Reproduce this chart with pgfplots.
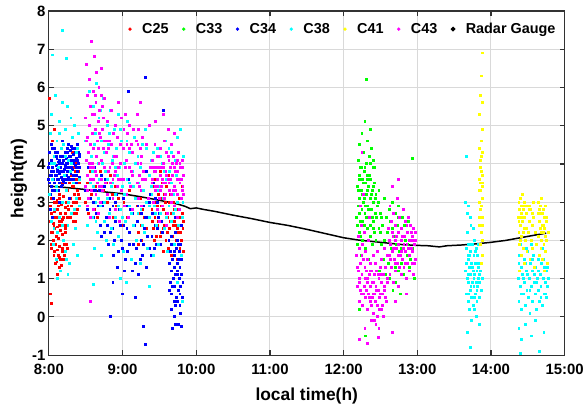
\documentclass[border=0pt]{standalone}
\usepackage{pgfplots}
\pgfplotsset{compat=1.18}
\usepackage{fontspec}
\setmainfont{Liberation Sans}
\definecolor{cR}{RGB}{255,0,0}
\definecolor{cG}{RGB}{0,255,0}
\definecolor{cB}{RGB}{0,0,255}
\definecolor{cC}{RGB}{0,255,255}
\definecolor{cY}{RGB}{255,255,0}
\definecolor{cM}{RGB}{255,0,255}
\definecolor{axgray}{RGB}{50,50,50}
\pgfplotsset{dots/.style={only marks, mark=square*, mark size=0.95pt, color=#1, mark options={line width=0pt}}}
\begin{document}
\begin{tikzpicture}
\begin{axis}[
  scale only axis, width=517bp, height=345bp,
  xmin=8, xmax=15, ymin=-1, ymax=8,
  xtick={8,9,10,11,12,13,14,15},
  xticklabels={8:00,9:00,10:00,11:00,12:00,13:00,14:00,15:00},
  ytick={-1,0,1,2,3,4,5,6,7,8},
  /pgf/number format/assume math mode=true,
  tick label style={font=\bfseries\fontsize{15}{17}\selectfont},
  xticklabel style={inner ysep=0pt, yshift=-9bp},
  yticklabel style={inner ysep=0pt},
  label style={font=\bfseries\fontsize{17.5}{20}\selectfont},
  xlabel={local time(h)}, ylabel={height(m)},
  xlabel style={at={(axis description cs:0.5,0)}, anchor=center, yshift=-41bp},
  ylabel style={at={(axis description cs:-0.058,0.513)}, anchor=center},
  grid=major, grid style={color=black!15, line width=0.9pt},
  axis line style={color=axgray, line width=1.2pt},
  tick style={color=axgray, line width=1.2pt},
  tick align=inside, major tick length=5bp,
  xtick pos=both, ytick pos=both,
  clip=true,
  legend columns=-1,
  legend style={at={(rel axis cs:1,1)}, anchor=north east, xshift=-4bp, yshift=-8bp,
    draw=none, fill=none, font=\bfseries\fontsize{14.5}{16}\selectfont,
    /tikz/every odd column/.append style={column sep=8.5bp},
    /tikz/every even column/.append style={column sep=11.5bp}},
  legend image code/.code={\fill[#1] (0bp,0bp) circle (1.5pt);},
]
% C25
\addplot[dots=cR] coordinates {
(8.02,2.9)(8.03,3.4)(8.03,2.2)(8.04,1.8)(8.04,3.1)(8.05,2.6)(8.05,3.8)(8.06,2.0)(8.06,2.45)(8.07,3.0)(8.07,1.6)(8.08,2.3)(8.08,2.75)(8.09,3.3)(8.09,1.9)(8.10,2.1)(8.10,2.6)(8.11,1.45)(8.11,3.05)(8.12,2.35)(8.12,1.75)(8.13,2.9)(8.13,2.05)(8.14,1.55)(8.14,2.5)(8.15,3.2)(8.15,1.85)(8.16,2.25)(8.16,2.7)(8.17,1.35)(8.17,2.95)(8.18,2.15)(8.18,3.5)(8.19,1.7)(8.19,2.55)(8.20,2.0)(8.20,3.15)(8.21,2.4)(8.21,1.6)(8.22,2.85)(8.22,3.6)(8.23,2.2)(8.24,1.9)(8.24,3.0)(8.25,2.6)
(8.02,2.5)(8.03,1.9)(8.04,2.7)(8.05,2.2)(8.06,3.3)(8.07,2.4)(8.08,1.7)(8.09,2.6)(8.10,3.0)(8.11,2.2)(8.12,2.8)(8.13,1.6)(8.14,3.1)(8.15,2.4)(8.16,1.5)(8.17,2.5)(8.18,1.8)(8.19,3.0)(8.20,2.6)(8.21,1.9)(8.22,2.3)(8.23,2.7)(8.24,2.4)(8.25,1.8)(8.09,1.4)(8.15,1.3)(8.20,1.5)
(8.26,3.3)(8.27,2.8)(8.27,3.9)(8.28,3.5)(8.29,2.6)(8.29,4.1)(8.30,3.1)(8.31,3.7)(8.31,2.9)(8.32,4.3)(8.33,3.4)(8.33,2.7)(8.34,3.9)(8.35,3.2)(8.35,4.4)(8.36,2.5)(8.37,3.6)(8.37,3.0)(8.38,4.0)(8.39,3.3)(8.39,2.8)(8.40,3.8)(8.41,3.1)(8.41,4.2)(8.42,3.5)
(8.26,2.9)(8.28,3.9)(8.30,2.7)(8.32,3.4)(8.34,3.0)(8.36,3.8)(8.38,2.7)(8.40,3.2)(8.42,2.9)(8.30,3.6)(8.34,2.5)(8.38,3.6)
(8.01,5.7)(8.02,0.6)(8.03,0.35)(8.05,4.6)(8.12,1.1)(8.08,4.9)
(8.50,3.0)(8.52,3.5)(8.54,2.7)(8.56,3.8)
(8.58,3.2)(8.60,3.6)(8.62,2.8)(8.64,3.4)(8.66,2.6)(8.68,3.1)(8.70,3.8)(8.72,2.9)(8.74,3.3)(8.76,2.5)(8.78,3.5)(8.80,3.0)(8.82,2.7)(8.84,3.7)(8.86,3.2)(8.88,2.6)(8.90,3.4)(8.92,2.9)(8.95,3.1)(8.98,2.4)(9.02,3.0)(9.06,2.6)(9.10,3.3)
(9.20,2.9)(9.21,2.5)(9.22,2.2)(9.23,2.7)(9.24,3.1)(9.25,2.4)(9.26,2.0)(9.27,2.8)(9.22,1.9)(9.25,3.3)(9.30,2.6)(9.32,2.3)
(9.40,2.8)(9.41,3.4)(9.42,2.3)(9.43,3.0)(9.44,2.6)(9.45,3.6)(9.46,2.1)(9.47,2.9)(9.48,3.3)(9.49,2.5)(9.50,1.9)(9.51,2.7)(9.52,3.1)(9.53,2.2)(9.54,3.5)(9.55,2.8)(9.56,1.7)(9.57,2.4)(9.58,3.0)(9.59,2.0)(9.60,3.4)(9.61,2.6)(9.62,1.8)(9.63,2.9)(9.64,2.3)(9.65,3.2)(9.66,1.6)(9.67,2.7)(9.68,2.1)(9.69,3.0)(9.70,2.5)(9.71,1.9)(9.72,3.3)(9.73,2.4)(9.74,1.5)(9.75,2.8)(9.76,2.2)(9.77,3.1)(9.78,1.8)(9.79,2.6)(9.80,2.0)(9.81,3.4)(9.82,2.3)(9.83,1.7)(9.44,3.9)(9.52,3.8)(9.62,3.7)(9.74,3.6)
(9.41,2.5)(9.43,2.0)(9.45,2.9)(9.47,2.4)(9.49,3.2)(9.51,2.1)(9.53,2.9)(9.55,2.3)(9.57,3.2)(9.59,2.7)(9.61,2.2)(9.63,3.0)(9.65,2.5)(9.67,1.9)(9.69,2.4)(9.71,2.8)(9.73,2.0)(9.75,2.3)(9.77,2.6)(9.79,2.2)(9.81,2.7)(9.83,2.5)
};
\addlegendentry{C25}
% C33
\addplot[dots=cG] coordinates {
(12.18,2.6)(12.19,3.4)(12.19,1.9)(12.20,4.1)(12.20,2.9)(12.21,3.7)(12.21,2.2)(12.22,4.5)(12.22,3.1)(12.23,2.5)(12.23,3.9)(12.24,1.6)(12.24,3.3)(12.25,4.8)(12.25,2.8)(12.26,3.6)(12.26,2.0)(12.27,4.3)(12.27,3.0)(12.28,2.4)(12.28,3.8)(12.29,5.1)(12.29,2.7)(12.30,3.5)(12.30,1.8)(12.31,4.0)(12.31,3.2)(12.32,2.3)(12.32,4.6)(12.33,2.9)(12.33,3.7)(12.34,1.5)(12.34,3.4)(12.35,4.2)(12.35,2.6)(12.36,3.1)(12.36,4.9)(12.37,2.1)(12.37,3.6)(12.38,2.8)(12.38,4.4)(12.39,3.3)(12.39,1.9)(12.40,3.9)(12.40,2.5)(12.41,3.0)(12.41,4.1)(12.42,2.2)(12.42,3.5)(12.43,2.7)(12.43,1.4)(12.44,3.2)(12.44,2.0)(12.45,2.6)(12.46,1.7)(12.47,3.0)(12.48,2.3)(12.49,1.2)(12.50,2.7)(12.51,1.9)(12.52,0.9)(12.53,2.4)(12.54,1.5)(12.55,3.1)(12.56,2.0)(12.57,1.1)(12.58,2.6)
(12.19,2.4)(12.20,3.3)(12.21,2.7)(12.22,3.6)(12.23,2.1)(12.24,3.9)(12.25,3.2)(12.26,2.5)(12.27,3.5)(12.28,3.1)(12.29,3.9)(12.30,2.9)(12.31,2.6)(12.32,3.6)(12.33,3.3)(12.34,2.8)(12.35,3.7)(12.36,2.4)(12.37,4.0)(12.38,3.2)(12.39,2.6)(12.40,3.4)(12.41,2.3)(12.42,3.9)(12.43,3.1)(12.44,2.6)(12.46,2.9)(12.48,3.3)(12.50,2.2)(12.52,2.6)
(12.60,2.2)(12.61,1.4)(12.62,2.8)(12.63,1.0)(12.64,2.5)(12.65,1.8)(12.66,3.0)(12.67,0.7)(12.68,2.1)(12.69,1.5)(12.70,2.7)(12.71,0.9)(12.72,1.9)(12.73,2.4)(12.74,1.2)(12.75,2.9)(12.76,1.7)(12.77,0.6)(12.78,2.3)(12.79,1.4)(12.80,2.6)(12.82,1.1)(12.84,2.0)(12.86,1.6)(12.88,2.5)(12.90,1.3)(12.92,2.2)(12.94,1.8)(12.96,1.0)(12.93,4.15)
(12.62,2.0)(12.66,2.3)(12.70,1.3)(12.74,2.6)(12.78,1.8)(12.83,2.4)(12.87,1.9)(12.91,1.5)
(12.22,0.2)(12.30,-0.5)(12.31,6.2)
};
\addlegendentry{C33}
% C34
\addplot[dots=cB] coordinates {
(8.00,3.9)(8.01,4.3)(8.01,3.5)(8.02,4.0)(8.02,3.2)(8.03,4.5)(8.03,3.7)(8.04,4.1)(8.04,3.4)(8.05,3.9)(8.05,4.4)(8.06,3.6)(8.06,3.1)(8.07,4.2)(8.07,3.8)(8.08,3.5)(8.08,4.0)(8.09,3.3)(8.09,4.3)(8.10,3.7)(8.10,3.95)(8.11,3.4)(8.11,4.15)(8.12,3.6)(8.12,3.85)(8.13,4.05)(8.13,3.3)(8.14,3.75)(8.15,4.0)(8.15,3.5)(8.16,3.9)(8.17,3.65)(8.17,4.2)(8.18,3.45)(8.19,3.8)(8.20,4.1)(8.20,3.55)(8.21,3.85)(8.22,4.3)(8.22,3.6)(8.23,3.95)(8.24,4.15)(8.24,3.7)(8.25,4.4)(8.25,3.8)(8.26,4.0)(8.27,4.5)(8.27,3.65)(8.28,4.2)(8.29,3.9)(8.29,4.35)(8.30,3.75)(8.31,4.1)(8.31,4.45)(8.32,3.85)(8.33,4.25)(8.33,3.6)(8.34,4.05)(8.35,4.4)(8.35,3.7)(8.36,3.95)(8.37,4.3)(8.37,3.5)(8.38,4.15)(8.39,3.8)(8.39,4.5)(8.40,4.0)(8.41,3.65)(8.41,4.25)(8.42,3.9)(8.02,2.8)(8.05,2.6)(8.14,3.0)(8.28,3.1)(8.19,4.6)
(8.00,3.6)(8.01,4.0)(8.02,3.7)(8.03,4.1)(8.04,3.8)(8.05,3.3)(8.06,4.0)(8.07,3.5)(8.08,4.4)(8.09,3.7)(8.10,4.2)(8.11,3.8)(8.12,4.3)(8.13,3.6)(8.14,4.1)(8.15,3.8)(8.16,4.2)(8.17,3.4)(8.18,4.0)(8.19,3.6)(8.20,3.8)(8.21,4.2)(8.22,3.9)(8.23,3.5)(8.24,4.0)(8.25,3.6)(8.26,4.3)(8.27,3.9)(8.28,3.8)(8.29,3.6)(8.30,4.2)(8.31,3.9)(8.32,4.4)(8.33,4.0)(8.34,3.7)(8.35,4.1)(8.36,4.3)(8.37,3.9)(8.38,3.7)(8.39,4.1)(8.40,4.3)(8.41,3.9)(8.42,4.2)
(8.50,3.3)(8.52,2.8)(8.54,3.9)(8.56,3.1)
(8.58,3.6)(8.60,3.0)(8.62,3.9)(8.63,3.3)(8.65,2.7)(8.66,3.5)(8.68,3.1)(8.70,2.4)(8.71,3.7)(8.73,2.9)(8.75,3.4)(8.76,2.2)(8.78,2.6)(8.80,3.2)(8.81,1.9)(8.83,2.8)(8.85,3.5)(8.86,2.3)(8.88,1.6)(8.90,3.0)(8.91,2.5)(8.93,1.3)(8.95,2.1)(8.96,2.8)(8.98,3.3)(9.00,1.8)(9.02,2.4)(9.03,1.2)(9.05,2.9)(9.07,1.7)(9.08,3.6)(9.10,2.2)(9.12,1.5)(9.13,2.7)(9.15,1.9)(9.17,3.1)(9.18,1.4)(9.20,2.5)(9.22,1.1)(9.23,3.4)(9.25,2.0)(9.27,1.6)(9.28,2.9)(9.30,2.3)(9.32,1.3)(9.33,3.8)(9.35,2.6)(9.37,1.8)(9.38,3.2)(9.40,2.1)(9.42,3.5)(9.44,2.4)(9.46,1.9)(9.48,3.0)(9.50,2.7)(9.52,3.3)(9.54,2.2)
(8.59,3.3)(8.61,2.6)(8.64,3.7)(8.67,2.9)(8.69,3.3)(8.72,2.1)(8.74,3.0)(8.77,3.6)(8.79,2.4)(8.82,3.1)(8.84,2.2)(8.87,2.9)(8.89,2.0)(8.92,3.2)(8.94,1.7)(8.97,2.4)(8.99,2.0)(9.01,3.1)(9.04,1.5)(9.06,2.3)(9.09,1.9)(9.11,2.8)(9.14,1.2)(9.16,2.4)(9.19,1.8)(9.21,2.9)(9.24,1.5)(9.26,2.7)(9.29,1.9)(9.31,2.6)(9.34,2.1)(9.36,3.0)(9.39,1.6)(9.41,2.7)(9.43,1.8)(9.45,3.1)(9.47,2.3)(9.49,2.6)(9.51,1.9)(9.53,2.5)
(9.63,2.0)(9.64,1.4)(9.65,0.9)(9.65,1.7)(9.66,1.2)(9.67,2.1)(9.67,0.6)(9.68,1.5)(9.69,1.0)(9.69,1.9)(9.70,0.4)(9.70,1.3)(9.71,0.8)(9.71,1.6)(9.72,2.2)(9.72,1.1)(9.73,0.5)(9.73,1.8)(9.74,1.4)(9.74,0.9)(9.75,1.2)(9.75,2.0)(9.76,0.7)(9.76,1.5)(9.77,1.0)(9.77,1.7)(9.78,0.3)(9.78,1.3)(9.79,0.8)(9.79,1.9)(9.80,1.1)(9.81,0.5)(9.68,-0.3)(9.76,-0.2)(9.72,2.6)(9.80,2.4)
(9.64,0.7)(9.66,1.9)(9.68,0.8)(9.70,1.7)(9.72,0.3)(9.74,1.1)(9.76,1.9)(9.78,0.6)(9.80,1.5)(9.82,0.9)(9.66,0.2)(9.71,0.0)(9.75,0.4)(9.79,0.1)
(8.84,0.0)(9.29,-0.25)(9.31,-0.72)(9.72,-0.2)(9.80,-0.25)(9.31,6.25)(9.56,5.4)(9.08,5.9)(8.87,0.9)(9.00,0.6)(9.17,0.5)
};
\addlegendentry{C34}
% C38
\addplot[dots=cC] coordinates {
(8.01,3.2)(8.02,4.8)(8.03,2.5)(8.04,5.3)(8.05,6.85)(8.05,3.6)(8.06,1.9)(8.07,4.2)(8.08,2.8)(8.09,5.8)(8.10,3.4)(8.10,1.5)(8.11,4.6)(8.12,2.2)(8.13,3.9)(8.14,5.1)(8.15,2.6)(8.16,1.2)(8.17,4.4)(8.18,7.5)(8.18,3.0)(8.19,5.6)(8.20,2.0)(8.21,3.7)(8.22,4.9)(8.23,1.7)(8.24,6.75)(8.24,3.3)(8.25,5.5)(8.26,2.4)(8.27,4.1)(8.28,1.4)(8.29,3.8)(8.30,5.2)(8.31,2.7)(8.32,4.7)(8.33,1.9)(8.34,3.5)(8.35,5.0)(8.36,2.3)(8.37,4.3)(8.38,3.1)(8.39,1.6)(8.40,4.8)(8.41,2.9)(8.42,3.6)(8.12,1.0)(8.26,1.1)(8.08,4.0)(8.20,4.5)(8.24,1.5)
(8.03,4.0)(8.07,2.3)(8.11,3.3)(8.15,4.8)(8.19,2.4)(8.23,4.2)(8.27,3.0)(8.31,4.0)(8.35,2.8)(8.39,4.4)
(8.50,4.6)(8.53,2.4)(8.55,5.9)(8.57,3.5)(8.60,0.85)
(8.58,4.2)(8.59,2.6)(8.60,5.5)(8.61,3.4)(8.62,1.8)(8.63,4.8)(8.64,3.0)(8.65,6.1)(8.66,2.2)(8.67,4.0)(8.68,5.2)(8.69,3.6)(8.70,2.9)(8.71,4.6)(8.72,1.6)(8.73,3.3)(8.74,5.7)(8.75,2.5)(8.76,4.3)(8.77,3.8)(8.78,2.0)(8.79,5.0)(8.80,3.1)(8.81,4.5)(8.82,2.7)(8.83,3.9)(8.84,5.4)(8.85,2.3)(8.86,4.1)(8.87,3.5)(8.88,1.9)(8.89,4.9)(8.90,3.2)(8.91,2.6)(8.92,4.4)(8.93,3.7)(8.94,5.3)(8.95,2.1)(8.96,3.9)(8.97,2.8)(8.98,4.6)(9.00,3.4)(9.01,1.7)(9.03,4.0)(9.04,2.5)(9.06,3.6)(9.07,5.1)(9.09,2.9)(9.10,4.3)(9.12,1.5)(9.13,3.8)(9.15,2.4)(9.16,4.7)(9.18,3.1)(9.19,2.0)(9.21,4.2)(9.22,3.5)(9.24,1.4)(9.25,2.8)(9.27,4.5)(9.28,3.3)(9.30,2.2)(9.31,4.9)(9.33,3.0)(9.34,1.8)(9.36,3.7)(9.37,2.6)(9.39,4.1)(9.40,3.2)(9.42,1.6)(9.43,2.9)(9.45,3.9)(9.46,2.4)(9.48,4.4)(9.49,1.9)(9.51,3.4)(9.52,2.7)(9.54,4.0)(9.55,3.1)(9.57,2.3)(9.58,4.6)(9.60,3.6)(9.61,1.7)(9.63,2.9)(9.64,3.8)(9.66,2.5)(9.67,4.3)(9.69,3.2)(9.70,1.9)(9.72,2.8)(9.73,3.7)(9.75,4.7)(9.76,2.4)(9.78,3.5)(9.79,4.9)(9.80,1.6)(9.82,3.0)(9.83,4.2)(9.74,0.9)(9.81,0.4)(9.05,0.9)(9.36,0.8)(8.97,1.0)
(8.59,3.8)(8.62,4.5)(8.64,2.5)(8.67,3.1)(8.70,5.4)(8.73,4.0)(8.76,3.0)(8.79,3.6)(8.82,4.8)(8.85,3.4)(8.88,4.2)(8.91,3.9)(8.94,2.9)(8.97,4.9)(9.00,2.6)(9.03,3.2)(9.06,4.6)(9.09,3.5)(9.12,2.7)(9.15,3.4)(9.18,4.0)(9.21,2.7)(9.24,3.9)(9.27,2.4)(9.30,3.6)(9.33,4.4)(9.36,2.9)(9.39,3.4)(9.42,4.3)(9.45,2.7)(9.48,3.3)(9.51,4.2)(9.54,2.9)(9.57,3.8)(9.60,2.6)(9.63,4.4)(9.66,3.5)(9.69,2.7)(9.72,4.1)(9.75,3.0)(9.78,4.0)(9.81,2.6)
(13.66,1.2)(13.67,0.6)(13.67,1.8)(13.68,1.0)(13.68,2.2)(13.69,0.4)(13.69,1.5)(13.70,0.9)(13.70,1.9)(13.71,0.2)(13.71,1.3)(13.72,0.7)(13.72,1.7)(13.73,1.1)(13.73,2.4)(13.74,0.5)(13.74,1.4)(13.75,0.9)(13.75,1.9)(13.76,0.3)(13.76,1.2)(13.77,0.8)(13.77,1.6)(13.78,1.1)(13.78,2.0)(13.79,0.6)(13.79,1.4)(13.80,0.9)(13.80,1.8)(13.81,0.4)(13.81,1.2)(13.82,0.8)(13.82,1.6)(13.83,1.0)(13.84,0.5)(13.84,1.4)(13.85,0.9)(13.86,1.2)(13.87,0.7)(13.88,1.0)(13.68,2.7)(13.70,2.9)(13.72,2.6)(13.67,4.2)(13.66,3.0)(13.74,-0.1)(13.80,0.0)(13.68,-0.4)(13.72,-0.8)(13.85,-0.2)(13.76,2.3)(13.83,1.9)(13.70,1.6)(13.78,0.2)
(13.67,1.4)(13.69,1.1)(13.71,1.6)(13.73,0.8)(13.75,1.3)(13.77,1.0)(13.79,1.7)(13.81,0.7)(13.83,1.3)(13.85,1.1)(13.70,0.6)(13.74,1.9)(13.78,0.5)(13.82,1.4)
(14.37,1.0)(14.38,0.4)(14.39,1.6)(14.40,0.8)(14.41,1.3)(14.42,0.2)(14.43,1.1)(14.44,0.6)(14.45,1.5)(14.46,0.9)(14.47,0.3)(14.48,1.2)(14.49,0.7)(14.50,1.7)(14.51,0.5)(14.52,1.0)(14.53,0.1)(14.54,1.4)(14.55,0.8)(14.56,1.2)(14.57,0.4)(14.58,1.6)(14.59,0.9)(14.60,0.6)(14.61,1.3)(14.62,0.2)(14.63,1.0)(14.64,0.7)(14.65,1.5)(14.66,0.4)(14.67,1.1)(14.68,0.8)(14.69,1.4)(14.70,0.3)(14.71,1.0)(14.72,0.6)(14.73,1.3)(14.74,0.9)(14.75,0.5)(14.76,1.2)(14.77,0.8)(14.78,1.0)(14.40,1.9)(14.48,1.8)(14.55,1.9)(14.70,1.8)(14.38,-0.3)(14.42,-0.6)(14.47,-0.2)(14.55,-0.5)(14.40,-0.95)(14.66,-0.9)(14.72,-0.4)(14.60,-0.1)
(14.38,1.4)(14.41,0.6)(14.44,1.0)(14.47,1.4)(14.50,1.1)(14.53,0.7)(14.56,1.5)(14.59,1.1)(14.62,0.9)(14.65,1.2)(14.68,0.5)(14.71,1.5)(14.74,0.6)(14.77,1.3)
};
\addlegendentry{C38}
% C41
\addplot[dots=cY] coordinates {
(13.84,2.4)(13.85,3.0)(13.85,3.6)(13.86,2.8)(13.86,4.1)(13.86,3.3)(13.87,2.2)(13.87,3.8)(13.87,4.6)(13.88,3.1)(13.88,2.6)(13.88,4.9)(13.89,3.5)(13.89,1.6)(13.89,4.3)(13.86,1.9)(13.85,5.3)(13.88,5.6)(13.86,5.8)(13.87,6.3)(13.88,6.9)(13.85,4.4)(13.87,1.4)(13.86,3.9)(13.88,2.0)(13.89,3.7)(13.84,3.3)(13.87,2.9)
(13.86,3.5)(13.87,4.2)(13.88,3.4)(13.85,2.6)(13.89,2.4)
(14.37,2.6)(14.38,3.0)(14.38,2.2)(14.39,2.8)(14.39,1.9)(14.40,3.1)(14.40,2.4)(14.41,2.7)(14.41,1.6)(14.42,2.9)(14.42,2.1)(14.43,3.2)(14.43,2.5)(14.44,1.8)(14.44,2.8)(14.45,2.3)(14.45,3.0)(14.46,1.4)(14.46,2.6)(14.47,2.0)(14.48,2.7)(14.49,1.7)(14.50,2.9)(14.51,2.2)(14.52,2.5)(14.53,1.5)(14.54,2.8)(14.55,2.0)(14.56,2.4)(14.57,1.8)(14.58,2.6)(14.59,1.3)(14.60,2.2)(14.62,1.9)(14.64,2.7)(14.65,3.0)(14.65,2.1)(14.66,2.5)(14.66,1.6)(14.67,2.9)(14.67,2.3)(14.68,1.8)(14.68,2.7)(14.69,2.0)(14.69,3.1)(14.70,2.4)(14.70,1.5)(14.71,2.8)(14.71,2.2)(14.72,1.9)(14.72,2.6)(14.73,1.2)(14.73,2.3)(14.74,2.9)(14.74,1.7)(14.75,2.5)(14.76,2.0)(14.77,1.4)(14.78,2.2)(14.39,1.2)(14.58,3.0)(14.53,2.9)
(14.38,2.5)(14.40,2.0)(14.42,2.6)(14.44,2.2)(14.46,2.9)(14.48,2.3)(14.52,2.8)(14.56,2.7)(14.66,2.8)(14.68,2.2)(14.70,2.7)(14.72,2.4)(14.74,2.1)(14.76,2.6)
};
\addlegendentry{C41}
% C43
\addplot[dots=cM] coordinates {
(8.50,3.4)(8.50,5.2)(8.51,4.1)(8.51,6.6)(8.52,2.9)(8.52,4.7)(8.53,3.7)(8.53,5.8)(8.54,4.3)(8.54,3.1)(8.55,5.0)(8.55,6.2)(8.56,3.9)(8.56,2.6)(8.57,4.5)(8.57,5.5)(8.58,3.3)(8.58,7.2)(8.59,4.8)(8.59,4.0)(8.60,5.9)(8.60,3.6)(8.61,4.4)(8.61,2.8)(8.62,5.3)(8.62,6.8)(8.63,3.8)(8.63,4.9)(8.64,3.2)(8.64,5.6)(8.65,4.2)(8.65,6.4)(8.66,3.5)(8.66,4.6)(8.67,5.1)(8.67,2.7)(8.68,4.0)(8.68,6.0)(8.69,3.4)(8.69,5.4)(8.70,4.7)(8.70,3.0)(8.71,5.8)(8.71,4.1)(8.72,3.6)(8.72,6.5)(8.73,4.9)(8.73,3.3)(8.74,5.2)(8.74,4.4)(8.75,3.9)(8.75,5.7)
(8.51,4.6)(8.53,3.3)(8.55,4.0)(8.57,3.6)(8.59,5.3)(8.61,3.9)(8.63,5.8)(8.65,3.7)(8.67,4.4)(8.69,4.8)(8.71,3.4)(8.73,5.5)(8.75,4.6)(8.77,3.5)(8.79,4.6)(8.81,4.4)(8.83,3.9)(8.85,4.5)(8.87,3.6)(8.89,4.2)(8.91,3.8)(8.93,4.7)(8.95,3.6)(8.97,4.0)(8.99,3.6)(9.02,4.9)(9.04,3.9)(9.06,4.5)(9.09,4.4)(9.12,3.8)(9.14,4.3)(9.21,4.5)(9.23,3.4)(9.25,4.0)(9.27,3.6)
(8.78,4.3)(8.79,3.2)(8.80,5.1)(8.81,3.8)(8.82,2.6)(8.83,4.6)(8.84,3.5)(8.85,5.4)(8.86,4.0)(8.87,3.1)(8.88,4.8)(8.89,3.7)(8.90,2.8)(8.91,5.0)(8.92,4.2)(8.93,3.4)(8.94,5.6)(8.95,3.9)(8.96,2.5)(8.97,4.5)(8.98,3.3)(8.99,5.2)
(9.01,4.4)(9.02,3.6)(9.03,2.9)(9.04,5.3)(9.05,4.1)(9.06,3.2)(9.07,4.8)(9.08,2.6)(9.09,3.9)(9.10,5.0)(9.11,3.4)(9.12,4.5)(9.13,2.8)(9.14,3.7)(9.15,4.9)
(9.19,4.6)(9.20,3.5)(9.20,5.3)(9.21,4.0)(9.22,3.1)(9.22,4.9)(9.23,3.7)(9.24,4.4)(9.24,5.6)(9.25,3.3)(9.26,4.2)(9.26,2.9)(9.27,4.7)(9.28,3.8)
(9.31,3.6)(9.33,4.5)(9.35,3.1)(9.37,5.0)(9.38,3.9)
(9.40,3.5)(9.41,4.1)(9.42,3.0)(9.43,3.8)(9.44,4.5)(9.45,3.3)(9.46,3.9)(9.47,2.8)(9.48,3.6)(9.49,4.2)(9.50,3.1)(9.51,3.7)(9.52,4.4)(9.53,3.4)(9.54,2.9)(9.55,4.0)(9.56,3.5)(9.57,4.6)(9.58,3.2)(9.59,3.8)(9.60,4.3)(9.61,2.7)(9.62,3.6)(9.63,4.1)(9.64,3.3)(9.65,3.9)(9.66,4.5)(9.67,3.0)(9.68,3.7)(9.69,4.2)(9.70,3.4)(9.71,2.9)(9.72,3.8)(9.73,4.0)(9.74,3.2)(9.75,3.6)(9.76,4.3)(9.77,2.8)(9.78,3.5)(9.79,3.9)(9.80,3.1)(9.81,4.1)(9.82,3.4)(9.83,3.7)(9.45,5.1)(9.55,5.3)(9.62,4.9)(9.70,4.8)(9.50,2.5)(9.60,2.4)(9.74,2.6)(8.57,0.4)
(9.41,3.6)(9.42,3.9)(9.44,3.4)(9.45,3.8)(9.47,4.2)(9.48,3.4)(9.50,3.9)(9.51,3.3)(9.53,3.9)(9.54,3.6)(9.56,3.9)(9.57,3.1)(9.59,3.5)(9.60,3.7)(9.62,4.2)(9.63,3.5)(9.65,3.6)(9.66,3.2)(9.68,4.0)(9.69,3.3)(9.71,3.9)(9.72,3.3)(9.74,3.8)(9.75,4.1)(9.77,3.6)(9.78,4.0)(9.80,3.6)(9.81,3.3)(9.82,3.9)(9.83,3.2)
(12.18,1.6)(12.19,0.8)(12.20,2.1)(12.20,1.2)(12.21,0.4)(12.22,1.8)(12.22,0.9)(12.23,1.4)(12.24,2.4)(12.24,0.6)(12.25,1.1)(12.26,1.9)(12.26,0.3)(12.27,1.5)(12.28,0.8)(12.28,2.2)(12.29,1.0)(12.30,0.5)(12.30,1.7)(12.31,1.2)(12.32,0.2)(12.32,0.9)(12.33,1.5)(12.34,0.6)(12.34,2.0)(12.35,1.1)(12.36,0.4)(12.36,1.4)(12.37,0.8)(12.38,-0.1)(12.38,1.2)(12.39,0.5)(12.40,1.6)(12.40,0.9)(12.41,0.1)(12.42,1.1)(12.42,0.6)(12.43,1.4)(12.44,-0.2)(12.44,0.8)(12.45,1.2)(12.46,0.3)(12.46,1.7)(12.47,0.7)(12.48,1.0)(12.48,-0.3)(12.49,0.5)(12.50,1.3)(12.51,0.2)(12.51,0.9)(12.52,1.5)(12.53,0.6)(12.54,1.1)(12.54,0.0)(12.55,1.8)(12.56,0.8)(12.57,1.3)(12.58,0.4)(12.59,1.6)(12.60,1.0)
(12.19,1.3)(12.21,1.0)(12.23,0.7)(12.25,1.6)(12.27,0.6)(12.29,1.3)(12.31,0.7)(12.33,1.0)(12.35,0.5)(12.37,1.2)(12.39,0.9)(12.41,0.6)(12.43,0.4)(12.45,0.7)(12.47,1.1)(12.49,0.2)(12.51,1.1)(12.53,0.3)(12.55,0.7)(12.57,0.5)(12.59,0.9)(12.38,0.3)(12.42,-0.1)(12.46,0.0)(12.50,0.6)
(12.25,4.3)(12.27,3.2)(12.23,2.9)(12.35,2.6)(12.21,-0.6)(12.33,-0.7)(12.47,-0.55)(12.29,-0.3)
(12.61,2.3)(12.62,1.6)(12.63,2.9)(12.63,1.1)(12.64,1.9)(12.65,2.5)(12.65,1.3)(12.66,3.4)(12.66,1.7)(12.67,2.1)(12.68,0.9)(12.68,2.7)(12.69,1.5)(12.70,2.0)(12.71,1.2)(12.71,2.4)(12.72,1.8)(12.73,3.1)(12.73,1.4)(12.74,2.2)(12.75,0.8)(12.75,1.9)(12.76,2.6)(12.77,1.6)(12.78,2.0)(12.78,1.1)(12.79,2.3)(12.80,1.5)(12.81,2.8)(12.81,1.8)(12.82,1.3)(12.83,2.1)(12.84,1.7)(12.84,2.5)(12.85,1.0)(12.86,1.9)(12.87,2.2)(12.87,1.4)(12.88,2.6)(12.89,1.6)(12.90,2.0)(12.90,1.2)(12.91,2.4)(12.92,1.8)(12.93,1.4)(12.93,2.1)(12.94,1.7)(12.95,2.3)(12.95,1.1)(12.96,1.9)(12.97,1.5)(12.98,2.0)(12.70,0.4)(12.85,0.6)(12.66,-0.4)(12.75,3.6)
(12.62,2.0)(12.64,1.5)(12.66,2.2)(12.68,1.8)(12.70,1.4)(12.72,2.1)(12.74,1.6)(12.76,1.3)(12.78,1.7)(12.80,2.1)(12.82,1.9)(12.84,1.4)(12.86,2.4)(12.88,1.8)(12.90,1.6)(12.92,2.2)(12.94,2.0)(12.96,1.4)(12.97,2.2)
};
\addlegendentry{C43}
% Radar gauge
\addplot[color=black, line width=1.5pt, no marks] coordinates {
(8.0,3.42)(8.25,3.38)(8.5,3.33)(8.75,3.27)(9.0,3.22)(9.25,3.14)(9.5,3.05)(9.75,2.95)(9.85,2.89)(9.92,2.83)(10.0,2.85)(10.1,2.81)(10.25,2.76)(10.5,2.66)(10.75,2.57)(11.0,2.47)(11.25,2.39)(11.5,2.29)(11.75,2.18)(12.0,2.07)(12.2,2.01)(12.4,1.97)(12.6,1.93)(12.8,1.89)(13.0,1.87)(13.15,1.86)(13.3,1.83)(13.4,1.86)(13.6,1.88)(13.8,1.91)(14.0,1.95)(14.2,2.0)(14.4,2.07)(14.6,2.14)(14.75,2.19)
};
\addlegendentry{Radar Gauge}
\end{axis}
\path (-49bp,-53bp) rectangle (538bp,356bp);
\end{tikzpicture}
\end{document}
